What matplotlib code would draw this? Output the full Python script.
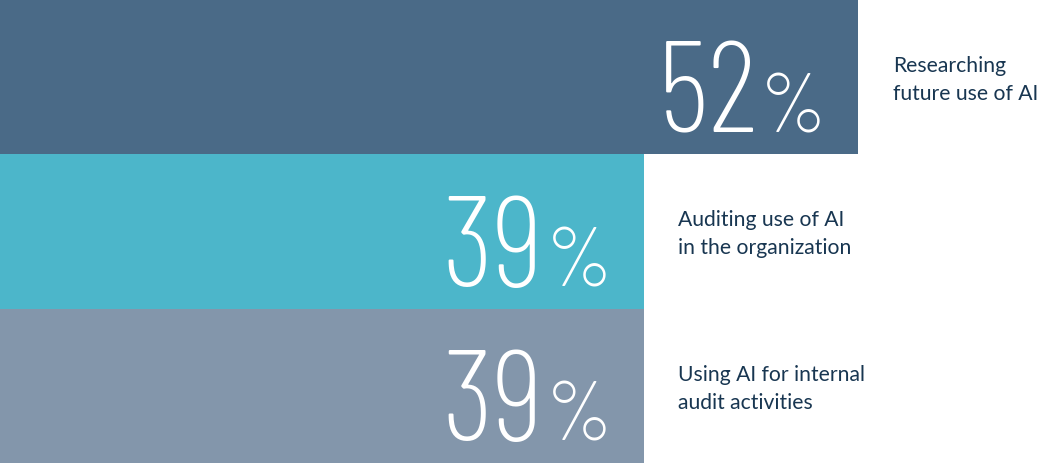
import matplotlib
matplotlib.use("Agg")
import matplotlib.pyplot as plt

## DATA ##
labels = [
    "Researching\nfuture use of AI",
    "Auditing use of AI\nin the organization",
    "Using AI for internal\naudit activities",
]
values = [52, 39, 39]
bar_colors = ["#4a6a87", "#4cb6ca", "#8396ab"]

number_font = ["Barlow Condensed", "Liberation Sans Narrow", "DejaVu Sans"]
label_font = ["Lato", "DejaVu Sans"]
label_color = "#183651"

## FIGURE ##
fig = plt.figure(figsize=(10.59, 4.63), dpi=100)
ax = fig.add_axes([0, 0, 1, 1])

positions = list(range(len(values)))
ax.barh(positions, values, height=1.0, color=bar_colors, edgecolor="none")

ax.set_xlim(0, 1059 / 16.5)
ax.set_ylim(len(values) - 0.5, -0.5)
ax.axis("off")

## NUMBERS AND LABELS ##
for pos, val, lab in zip(positions, values, labels):
    # percent sign sits at the bar end, the digits hang off its left side
    pct = ax.annotate(
        "%", xy=(val, pos), xytext=(-31, -55), textcoords="offset pixels",
        ha="right", va="baseline", color="white", fontsize=61,
        family=number_font, fontweight=275)
    ax.annotate(
        str(val), xy=(0, pos), xycoords=(pct, "data"),
        xytext=(-2, -55), textcoords="offset pixels",
        ha="right", va="baseline", color="white", fontsize=92.6,
        family=number_font, fontweight=275)
    ax.annotate(
        lab, xy=(val, pos), xytext=(35, -3), textcoords="offset pixels",
        ha="left", va="center", color=label_color, fontsize=15.2,
        family=label_font, linespacing=1.5)

fig.savefig("out.png", dpi=100)
